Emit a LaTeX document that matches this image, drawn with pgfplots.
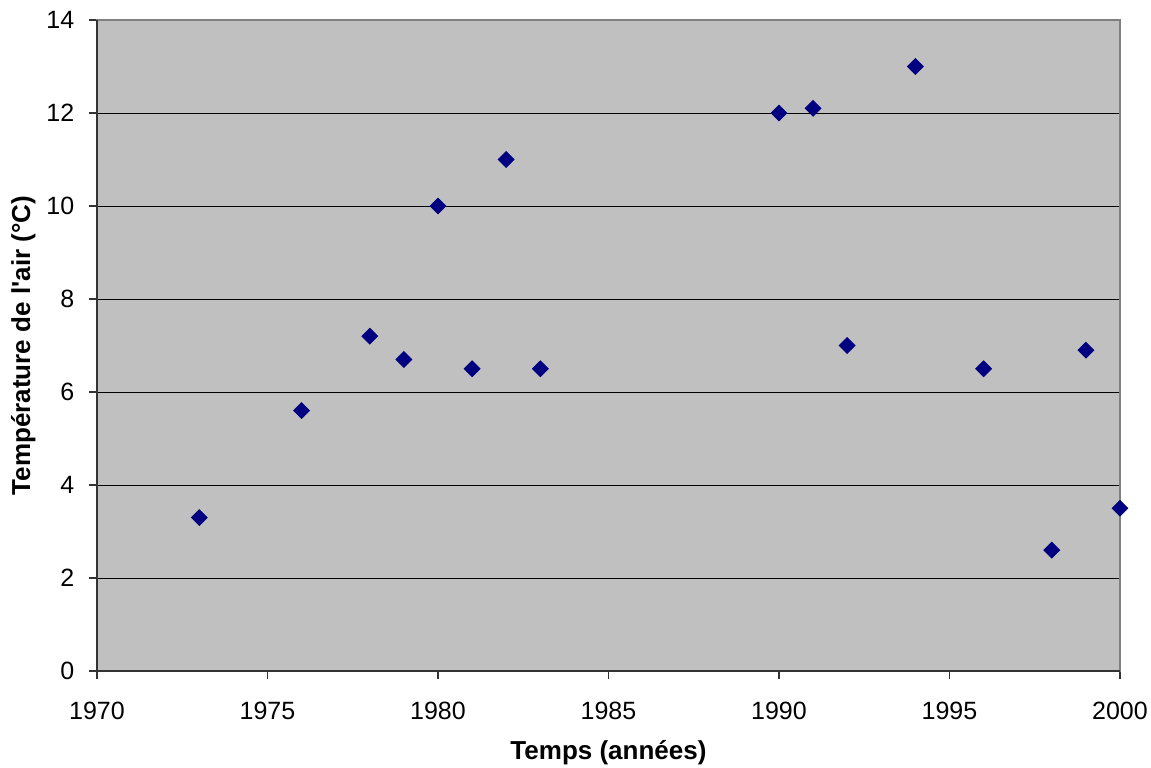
\documentclass[border=0pt]{standalone}
\usepackage{fontspec}
\setmainfont{Liberation Sans}
\usepackage{pgfplots}
\pgfplotsset{compat=1.18}

\definecolor{plotgray}{HTML}{C0C0C0}
\definecolor{framegray}{HTML}{808080}
\definecolor{navymark}{HTML}{000080}

\pgfplotstableread{
annee temp
1973 3.3
1976 5.6
1978 7.2
1979 6.7
1980 10.0
1981 6.5
1982 11.0
1983 6.5
1990 12.0
1991 12.1
1992 7.0
1994 13.0
1996 6.5
1998 2.6
1999 6.9
2000 3.5
}\temps

\begin{document}
\fontsize{12.5}{15}\selectfont
\begin{tikzpicture}
\begin{axis}[
  scale only axis,
  width=511.5pt, height=325.5pt,
  xmin=1970, xmax=2000,
  ymin=0, ymax=14,
  xtick={1970,1975,...,2000},
  ytick={0,2,...,14},
  tick align=outside,
  major tick length=4pt,
  tick style={black!80, line width=0.6pt},
  xtick pos=bottom, ytick pos=left,
  /pgf/number format/assume math mode=true,
  /pgf/number format/1000 sep=,
  ticklabel style={font=\fontsize{12.5}{15}\selectfont},
  xticklabel style={yshift=-7pt},
  yticklabel style={xshift=-3pt},
  ymajorgrids,
  major grid style={black, line width=0.5pt},
  axis background/.style={fill=plotgray},
  axis line style={framegray, line width=0.7pt},
  xlabel={\bfseries Temps (années)},
  ylabel={\bfseries Température de l\textquotesingle air (°C)},
  label style={font=\fontsize{13}{15}\selectfont},
  xlabel style={at={(axis description cs:0.5,-0.125)}, anchor=center},
  ylabel style={at={(axis description cs:-0.072,0.5)}, anchor=center},
  clip=false,
]
\addplot[only marks, mark=square*, mark size=2.8pt,
  mark options={rotate=45, fill=navymark, draw=navymark}] table[x=annee, y=temp] {\temps};
\draw[black!80, line width=0.8pt] (rel axis cs:0,1) -- (rel axis cs:0,0) -- (rel axis cs:1,0);
\end{axis}
\pgfresetboundingbox
\path (current axis.south west) ++(-48.5pt,-48pt) coordinate (bl);
\path (current axis.north east) ++(15.5pt,10pt) coordinate (tr);
\useasboundingbox (bl) rectangle (tr);
\end{tikzpicture}
\end{document}
